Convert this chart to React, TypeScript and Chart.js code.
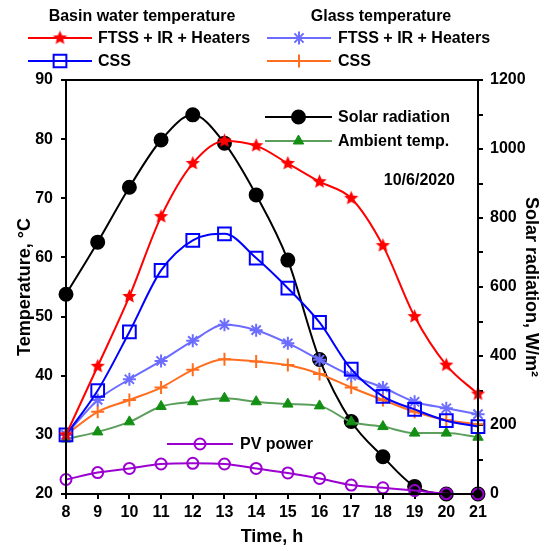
import React, { useEffect, useRef } from 'react';
import { Chart, registerables } from 'chart.js';
import { drawPoint } from 'chart.js/helpers';

Chart.register(...registerables);

const hours = [8, 9, 10, 11, 12, 13, 14, 15, 16, 17, 18, 19, 20, 21];
const ftssBasin = [30, 41.6, 53.4, 66.9, 75.9, 79.7, 78.9, 75.9, 72.8, 70.0, 62.0, 50.0, 41.8, 36.9];
const cssBasin = [30, 37.5, 47.4, 57.8, 62.9, 64.0, 59.9, 54.8, 49.0, 41.1, 36.5, 34.3, 32.4, 31.4];
const ftssGlass = [30, 35.9, 39.4, 42.5, 45.9, 48.6, 47.7, 45.5, 42.7, 40.0, 38.0, 35.6, 34.5, 33.5];
const cssGlass = [30, 33.9, 35.9, 38.0, 41.0, 42.8, 42.4, 41.8, 40.3, 38.0, 35.9, 33.9, 32.5, 31.8];
const ambientTemp = [29.3, 30.5, 32.2, 34.8, 35.6, 36.2, 35.6, 35.2, 34.9, 32.2, 31.4, 30.3, 30.3, 29.6];
const solarRadiation = [579, 730, 889, 1026, 1099, 1017, 867, 678, 390, 210, 108, 22, 0, 0];
const pvPower = [42, 62, 74, 87, 89, 87, 74, 61, 45, 26, 18, 10, 1, 0];

const tempTicks = { min: 20, max: 90, step: 10 };
const solarTicks = { min: 0, max: 1200, step: 100, labelStep: 200 };

const RED = '#ff0000';
const BLUE = '#0000ff';
const LBLUE = '#6c6cff';
const ORANGE = '#ff6d1f';
const GREEN_LINE = '#5c9e5c';
const GREEN_PT = '#138f13';
const PURPLE = '#9b00d0';
const FONT = "'Liberation Sans', Arial, sans-serif";

function makeStar(color: string, r: number) {
  const c = document.createElement('canvas');
  const s = Math.ceil(r * 2 + 2);
  c.width = s;
  c.height = s;
  const ctx = c.getContext('2d')!;
  ctx.beginPath();
  for (let i = 0; i < 10; i++) {
    const rad = i % 2 === 0 ? r : r * 0.45;
    const a = -Math.PI / 2 + (i * Math.PI) / 5;
    ctx.lineTo(s / 2 + rad * Math.cos(a), s / 2 + rad * Math.sin(a));
  }
  ctx.closePath();
  ctx.fillStyle = color;
  ctx.fill();
  return c;
}

export default function App() {
  const ref = useRef<HTMLCanvasElement | null>(null);
  useEffect(() => {
    const star = makeStar(RED, 7.5);
    const toXY = (vals: number[]) => vals.map((v, i) => ({ x: hours[i], y: v }));
    const common = {
      cubicInterpolationMode: 'monotone' as const,
      borderWidth: 2,
      pointBorderWidth: 2,
      clip: false as const,
    };
    const datasets: any[] = [
      { label: 'FTSS basin', data: toXY(ftssBasin), yAxisID: 'y', borderColor: RED, backgroundColor: RED, pointStyle: star, pointRadius: 7.5, ...common },
      { label: 'CSS basin', data: toXY(cssBasin), yAxisID: 'y', borderColor: BLUE, backgroundColor: 'rgba(0,0,0,0)', pointStyle: 'rect', pointRadius: 9, ...common },
      { label: 'FTSS glass', data: toXY(ftssGlass), yAxisID: 'y', borderColor: LBLUE, backgroundColor: LBLUE, pointStyle: 'star', pointRadius: 6.5, ...common },
      { label: 'CSS glass', data: toXY(cssGlass), yAxisID: 'y', borderColor: ORANGE, backgroundColor: ORANGE, pointStyle: 'cross', pointRadius: 6.5, ...common },
      { label: 'Ambient', data: toXY(ambientTemp), yAxisID: 'y', borderColor: GREEN_LINE, backgroundColor: GREEN_PT, pointBorderColor: GREEN_PT, pointStyle: 'triangle', pointRadius: 6, ...common, pointBorderWidth: 1 },
      { label: 'PV power', data: toXY(pvPower), yAxisID: 'y1', borderColor: PURPLE, backgroundColor: 'rgba(0,0,0,0)', pointStyle: 'circle', pointRadius: 5.5, ...common },
      { label: 'Solar radiation', data: toXY(solarRadiation), yAxisID: 'y1', borderColor: '#000', backgroundColor: '#000', pointStyle: 'circle', pointRadius: 6.5, ...common },
    ];

    const legendPlugin = {
      id: 'customLegend',
      afterDraw(chart: any) {
        const ctx = chart.ctx as CanvasRenderingContext2D;
        const { left, top, right, bottom } = chart.chartArea;
        ctx.save();
        ctx.strokeStyle = '#000';
        ctx.lineWidth = 2;
        ctx.strokeRect(left, top, right - left, bottom - top);

        const entry = (x1: number, x2: number, y: number, color: string, pt: any, r: number, fill: string, text: string, tx: number, lw = 2) => {
          ctx.beginPath();
          ctx.strokeStyle = color;
          ctx.lineWidth = lw;
          ctx.moveTo(x1, y);
          ctx.lineTo(x2, y);
          ctx.stroke();
          ctx.fillStyle = fill;
          ctx.strokeStyle = pt.border || color;
          ctx.lineWidth = pt.bw || 2;
          drawPoint(ctx, { pointStyle: pt.style, radius: r, rotation: 0, borderWidth: pt.bw || 2 } as any, (x1 + x2) / 2, y);
          ctx.fillStyle = '#000';
          ctx.font = `bold 16px ${FONT}`;
          ctx.textAlign = 'left';
          ctx.textBaseline = 'middle';
          ctx.fillText(text, tx, y + 1);
        };

        ctx.font = `bold 16px ${FONT}`;
        ctx.fillStyle = '#000';
        ctx.textAlign = 'center';
        ctx.textBaseline = 'middle';
        ctx.fillText('Basin water temperature', 142, 17);
        ctx.fillText('Glass temperature', 381, 17);

        entry(28, 92, 38, RED, { style: star }, 7.5, RED, 'FTSS + IR + Heaters', 98);
        entry(28, 92, 61, BLUE, { style: 'rect' }, 9, 'rgba(0,0,0,0)', 'CSS', 98);
        entry(267, 331, 38, LBLUE, { style: 'star' }, 6.5, LBLUE, 'FTSS + IR + Heaters', 338);
        entry(267, 331, 61, ORANGE, { style: 'cross' }, 6.5, ORANGE, 'CSS', 338);

        entry(265, 332, 117, '#000', { style: 'circle' }, 6.5, '#000', 'Solar radiation', 338);
        entry(265, 332, 141, GREEN_LINE, { style: 'triangle', border: GREEN_PT, bw: 1 }, 6, GREEN_PT, 'Ambient temp.', 338);
        entry(167, 233, 444, PURPLE, { style: 'circle' }, 5.5, 'rgba(0,0,0,0)', 'PV power', 240);

        ctx.fillStyle = '#000';
        ctx.font = `bold 16px ${FONT}`;
        ctx.textAlign = 'right';
        ctx.textBaseline = 'middle';
        ctx.fillText('10/6/2020', 455, 181);
        ctx.restore();
      },
    };

    const tickFont = { family: FONT, size: 16, weight: 'bold' as const };
    const titleFont = { family: FONT, size: 18, weight: 'bold' as const };

    const chart = new Chart(ref.current!, {
      type: 'line',
      data: { datasets },
      options: {
        responsive: false,
        animation: false,
        devicePixelRatio: 1,
        layout: { padding: { top: 80, left: 0, right: 0, bottom: 0 } },
        plugins: { legend: { display: false }, tooltip: { enabled: false } },
        scales: {
          x: {
            type: 'linear',
            min: 8,
            max: 21,
            ticks: { stepSize: 1, color: '#000', font: tickFont, padding: 4, maxRotation: 0 },
            grid: { drawOnChartArea: false, drawTicks: true, tickLength: 5, color: '#000', lineWidth: 2 },
            border: { color: '#000', width: 2 },
            title: { display: true, text: 'Time, h', color: '#000', font: titleFont, padding: { top: 0, bottom: 3 } },
            afterFit: (s: any) => { s.height = 57; },
          },
          y: {
            type: 'linear',
            position: 'left',
            min: tempTicks.min,
            max: tempTicks.max,
            ticks: { stepSize: tempTicks.step, color: '#000', font: tickFont, padding: 8 },
            grid: { drawOnChartArea: false, drawTicks: true, tickLength: 5, color: '#000', lineWidth: 2 },
            border: { color: '#000', width: 2 },
            title: { display: true, text: 'Temperature, °C', color: '#000', font: titleFont, padding: { top: 14, bottom: 0 } },
            afterFit: (s: any) => { s.width = 66; },
          },
          y1: {
            type: 'linear',
            position: 'right',
            min: solarTicks.min,
            max: solarTicks.max,
            ticks: {
              stepSize: solarTicks.step,
              color: '#000',
              font: tickFont,
              padding: 7,
              callback: (v: any) => (Number(v) % solarTicks.labelStep === 0 ? String(v) : ''),
            },
            grid: { drawOnChartArea: false, drawTicks: true, tickLength: 5, color: '#000', lineWidth: 2 },
            border: { color: '#000', width: 2 },
            title: { display: true, text: 'Solar radiation, W/m²', color: '#000', font: titleFont, padding: { top: 3, bottom: 0 } },
            afterFit: (s: any) => { s.width = 67; },
          },
        },
      },
      plugins: [legendPlugin],
    });
    return () => chart.destroy();
  }, []);

  return (
    <div style={{ position: 'absolute', left: 0, top: 0, width: 545, height: 551, background: '#fff' }}>
      <canvas ref={ref} width={545} height={551} style={{ display: 'block', width: 545, height: 551 }} />
    </div>
  );
}
